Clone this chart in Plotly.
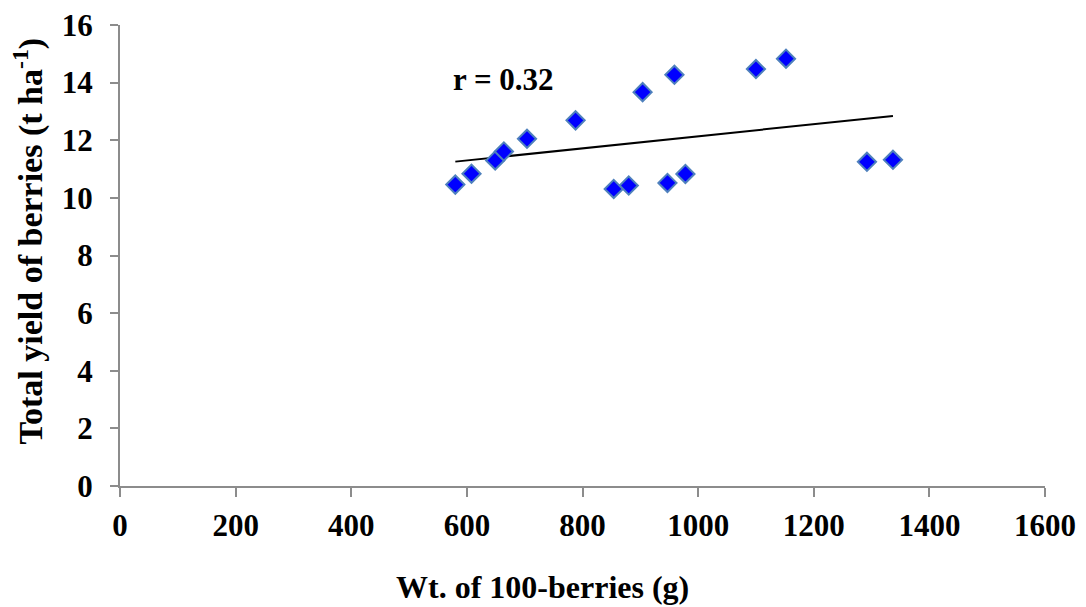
import numpy as np
import plotly.graph_objects as go

# Data
berry_wt = [580, 608, 649, 664, 704, 788, 854, 880, 904, 947, 959, 978, 1100, 1152, 1292, 1337]
total_yield = [10.46, 10.84, 11.30, 11.61, 12.05, 12.69, 10.31, 10.43, 13.67, 10.52, 14.27, 10.83,
               14.47, 14.83, 11.25, 11.32]
x_ticks = [0, 200, 400, 600, 800, 1000, 1200, 1400, 1600]
y_ticks = [0, 2, 4, 6, 8, 10, 12, 14, 16]
r_label = "r = 0.32"

slope, intercept = np.polyfit(berry_wt, total_yield, 1)
trend_x = [min(berry_wt), max(berry_wt)]
trend_y = [slope * v + intercept for v in trend_x]

FONT = "Liberation Serif"
AXIS_COLOR = "#8c8c8c"

fig = go.Figure()
fig.add_trace(go.Scatter(
    x=trend_x, y=trend_y, mode="lines",
    line=dict(color="black", width=2), showlegend=False, hoverinfo="skip"))
fig.add_trace(go.Scatter(
    x=berry_wt, y=total_yield, mode="markers",
    marker=dict(symbol="diamond", size=14, color="#0000FF",
                line=dict(color="#4F81BD", width=2)),
    showlegend=False))

fig.update_layout(
    width=1086, height=607,
    margin=dict(l=119.5, r=41, t=25, b=121),
    paper_bgcolor="white", plot_bgcolor="white",
    font=dict(family=FONT, color="black"),
    xaxis=dict(range=[0, 1600], tickvals=x_ticks, showgrid=False, zeroline=False,
               automargin=False,
               showline=True, linecolor=AXIS_COLOR, linewidth=2,
               ticks="outside", ticklen=9, tickwidth=1.5, tickcolor=AXIS_COLOR,
               tickfont=dict(family=FONT, size=31, color="black", weight="bold"),
               ticklabelstandoff=2),
    yaxis=dict(range=[0, 16], tickvals=y_ticks, showgrid=False, zeroline=False,
               automargin=False,
               showline=True, linecolor=AXIS_COLOR, linewidth=2,
               ticks="outside", ticklen=8, tickwidth=1.5, tickcolor=AXIS_COLOR,
               tickfont=dict(family=FONT, size=31, color="black", weight="bold"),
               ticklabelstandoff=11),
    annotations=[
        dict(text="Wt. of 100-berries (g)", xref="paper", yref="paper",
             x=(542 - 119.5) / (1045 - 119.5), y=-(587 - 486) / 461,
             xanchor="center", yanchor="middle", showarrow=False,
             font=dict(family=FONT, size=32, color="black", weight="bold")),
        dict(text="Total yield of berries (t ha<sup>-1</sup>)", xref="paper", yref="paper",
             x=-(119.5 - 27) / (1045 - 119.5), y=(486 - 241) / 461,
             xanchor="center", yanchor="middle", textangle=-90, showarrow=False,
             font=dict(family=FONT, size=34, color="black", weight="bold")),
        dict(text=r_label, xref="paper", yref="paper",
             x=(503 - 119.5) / (1045 - 119.5), y=(486 - 79) / 461,
             xanchor="center", yanchor="middle", showarrow=False,
             font=dict(family=FONT, size=31, color="black", weight="bold")),
    ],
)

fig.write_html("out.html")
